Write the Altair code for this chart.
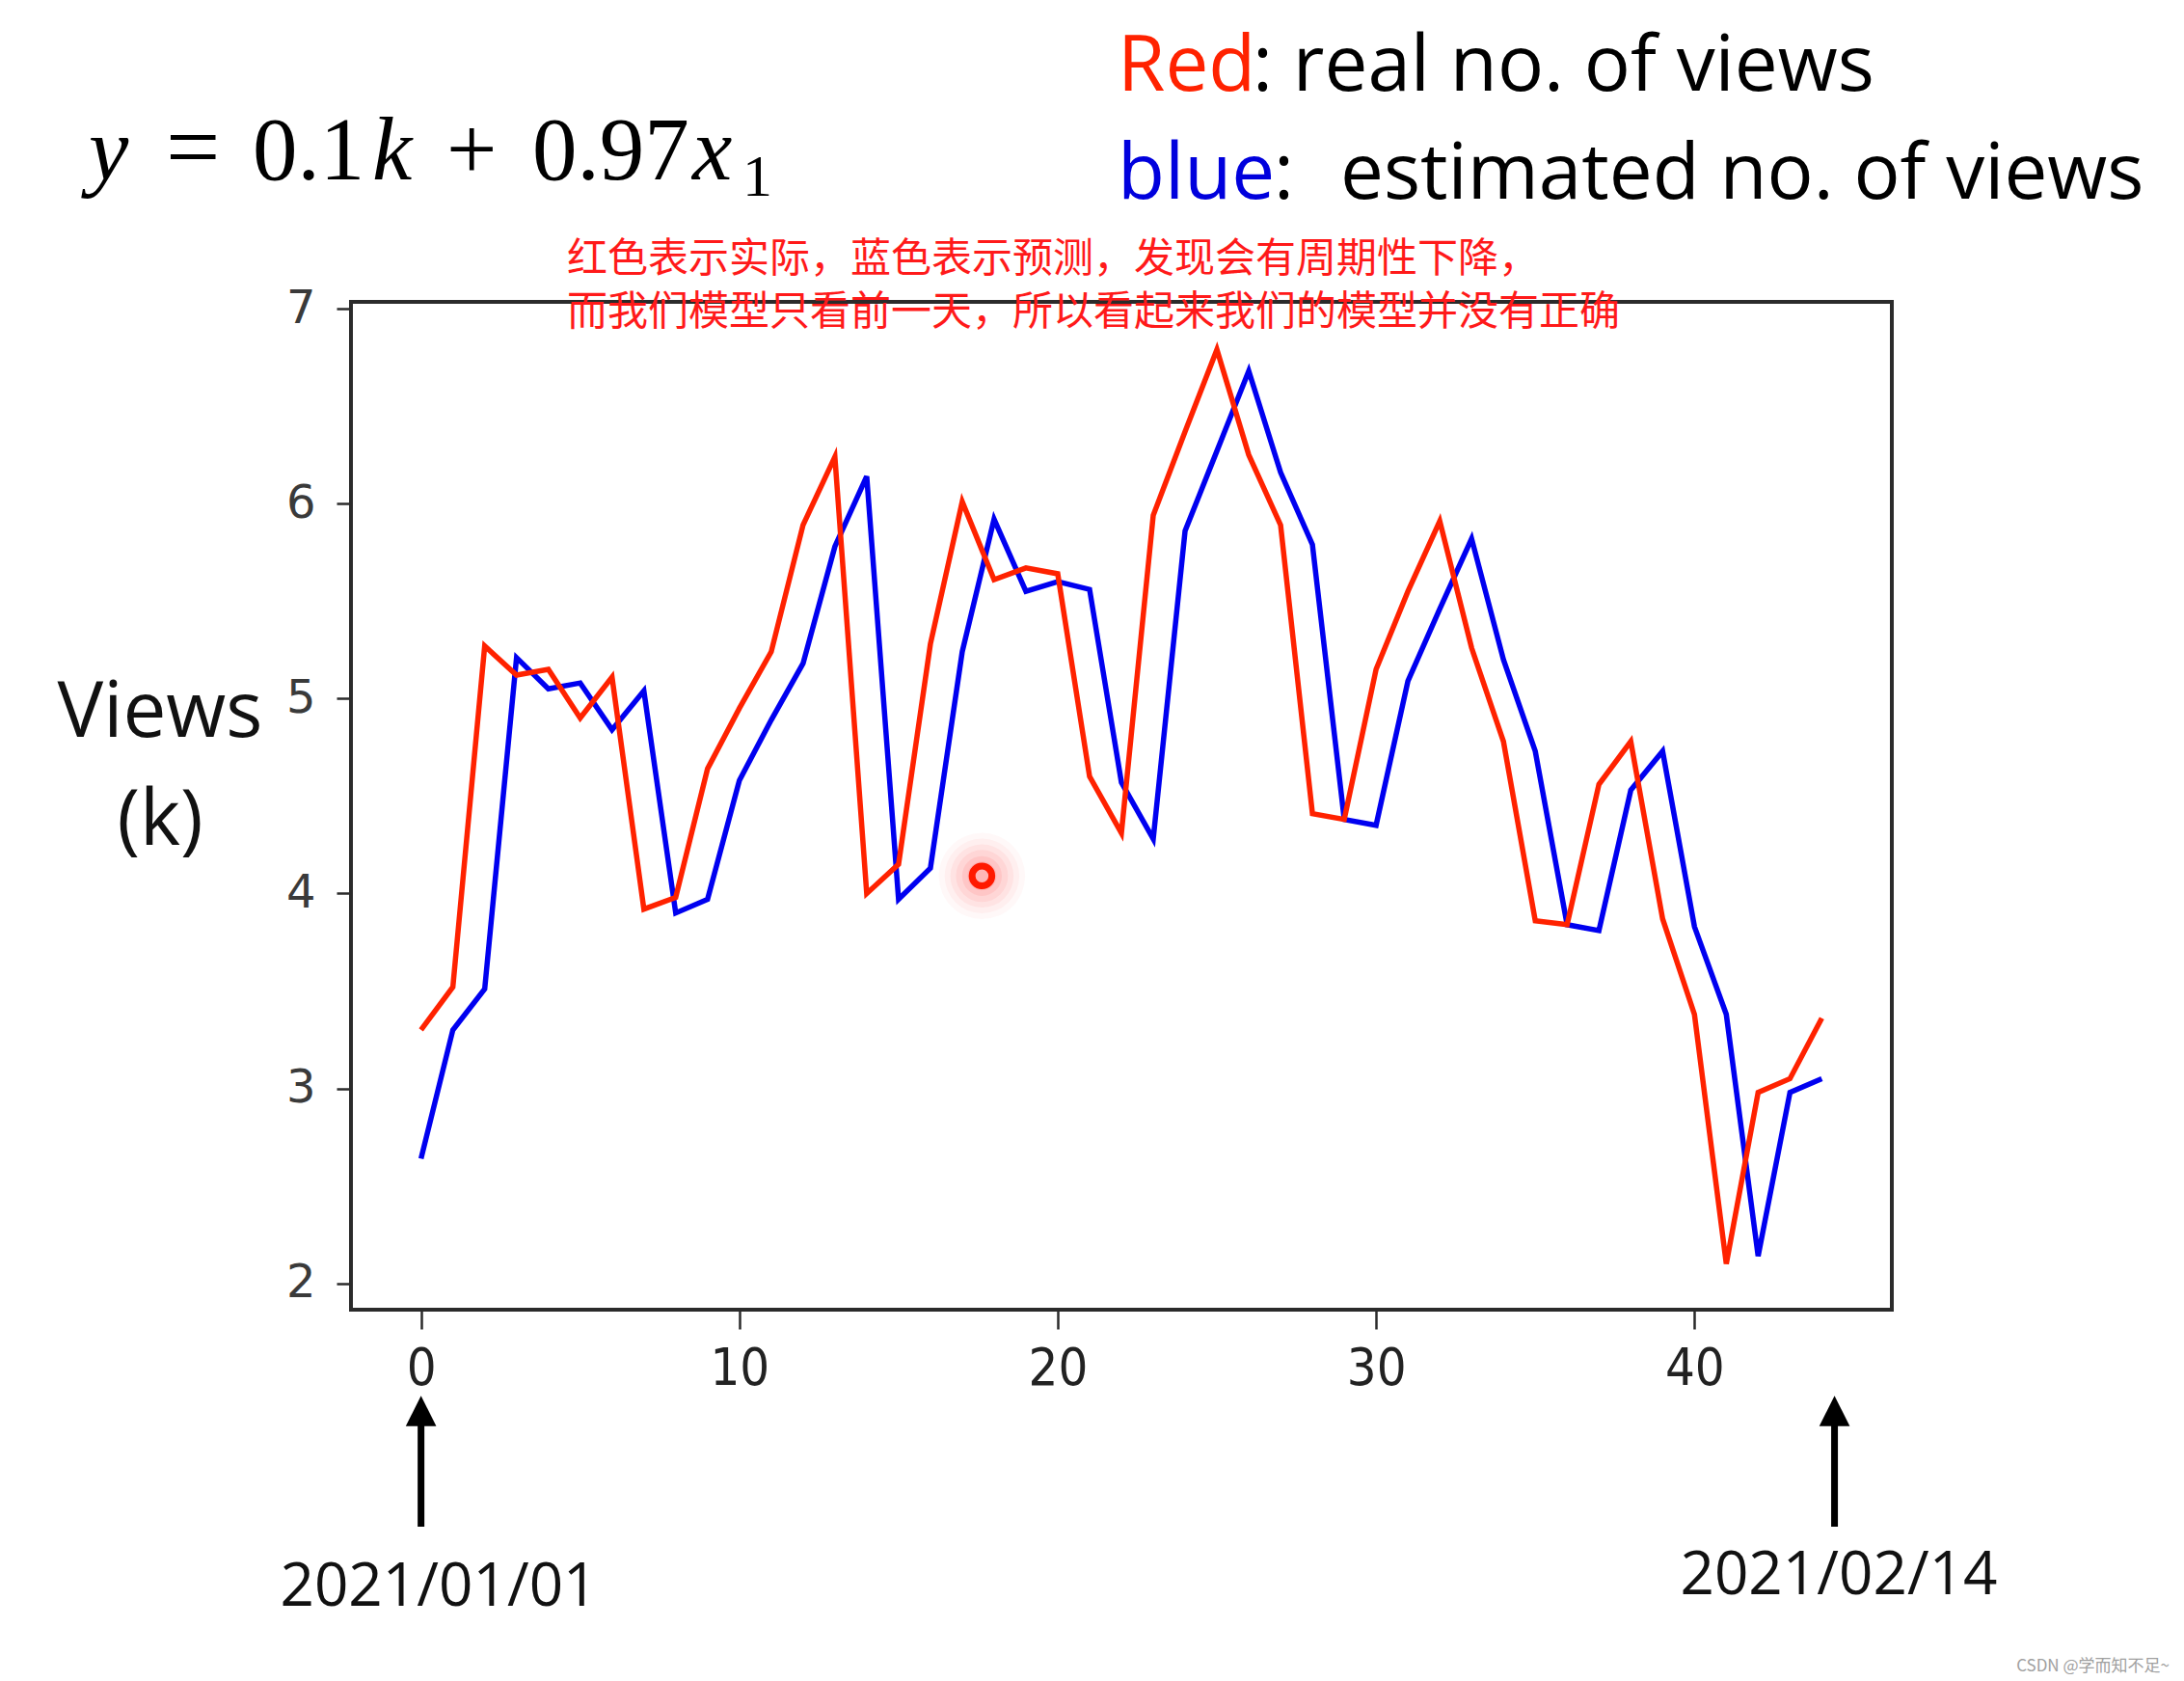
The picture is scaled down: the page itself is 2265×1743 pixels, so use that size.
import altair as alt
import pandas as pd

# ---------------- data ----------------
days = list(range(45))
real_views = [3.30, 3.52, 5.27, 5.12, 5.15, 4.90, 5.11, 3.92, 3.98, 4.64,
              4.95, 5.24, 5.89, 6.24, 4.00, 4.15, 5.28, 6.01, 5.61, 5.67,
              5.64, 4.60, 4.31, 5.94, 6.37, 6.79, 6.25, 5.89, 4.41, 4.38,
              5.15, 5.55, 5.91, 5.26, 4.78, 3.86, 3.84, 4.56, 4.78, 3.87,
              3.38, 2.10, 2.98, 3.05, 3.36]
estimated_views = [2.64, 3.30, 3.51, 5.21, 5.05, 5.08, 4.84, 5.04, 3.90, 3.97,
                   4.58, 4.89, 5.18, 5.78, 6.14, 3.97, 4.13, 5.24, 5.92, 5.55,
                   5.60, 5.56, 4.57, 4.28, 5.86, 6.27, 6.68, 6.16, 5.79, 4.38,
                   4.35, 5.09, 5.46, 5.82, 5.20, 4.73, 3.84, 3.81, 4.53, 4.73,
                   3.83, 3.38, 2.14, 2.98, 3.05]
x_ticks = [0, 10, 20, 30, 40]
y_ticks = [2, 3, 4, 5, 6, 7]
cursor_day = [17.62]
cursor_value = [4.09]
arrow_days = [0, 44.4]

RED = "#ff2200"
BLUE = "#0000f0"

# plot-area geometry (pixels in the page)
X0, Y0 = 364, 313
PLOT_W, PLOT_H = 1598, 1045
TOTAL_W, TOTAL_H = 2265, 1743

xs = alt.Scale(domain=[-2.2, 46.2], nice=False, zero=False)
ys = alt.Scale(domain=[1.865, 7.035], nice=False, zero=False)

x_axis = alt.Axis(values=x_ticks, title=None, grid=False, domain=False,
                  tickSize=20, tickWidth=2.5, tickColor="#2b2b2b",
                  labelFontSize=54, labelColor="#222222", labelPadding=14,
                  labelFont="Liberation Sans Narrow, DejaVu Sans Condensed, Roboto Condensed, DejaVu Sans")
y_axis = alt.Axis(values=y_ticks, title=None, grid=False, domain=False,
                  tickSize=15, tickWidth=2.5, tickColor="#2b2b2b",
                  labelFontSize=48, labelColor="#3a3a3a", labelPadding=22,
                  labelFont="DejaVu Sans")

x_enc = alt.X("day:Q", scale=xs, axis=x_axis)
y_enc = alt.Y("views:Q", scale=ys, axis=y_axis)

df_real = pd.DataFrame({"day": days, "views": real_views})
df_est = pd.DataFrame({"day": days, "views": estimated_views})
df_cursor = pd.DataFrame({"day": cursor_day, "views": cursor_value})
df_arrow = pd.DataFrame({"day": arrow_days})

layers = []

# cursor glow (soft halo)
for size, op in [(8000, 0.035), (6000, 0.045), (4300, 0.06), (2900, 0.07), (1700, 0.09), (900, 0.10)]:
    layers.append(
        alt.Chart(df_cursor).mark_point(shape="circle", filled=True, color="#ff3030",
                                        opacity=op, size=size, strokeWidth=0)
        .encode(x=x_enc, y=y_enc)
    )

layers.append(alt.Chart(df_est).mark_line(color=BLUE, strokeWidth=5.5).encode(x=x_enc, y=y_enc))
layers.append(alt.Chart(df_real).mark_line(color=RED, strokeWidth=5.5).encode(x=x_enc, y=y_enc))

layers.append(
    alt.Chart(df_cursor).mark_point(shape="circle", filled=False, color="#ff1a00",
                                    opacity=1, size=420, strokeWidth=7)
    .encode(x=x_enc, y=y_enc)
)

# arrows under the x axis
layers.append(
    alt.Chart(df_arrow).mark_rule(color="black", strokeWidth=7)
    .encode(x=x_enc, y=alt.value(1583 - Y0), y2=alt.value(1468 - Y0))
)
layers.append(
    alt.Chart(df_arrow).mark_point(shape="M0,-1L1,1L-1,1Z", filled=True, color="black",
                                   opacity=1, size=1000, strokeWidth=0)
    .encode(x=x_enc, y=alt.value(1463 - Y0))
)


def label(text, x, y, **kw):
    return alt.Chart(pd.DataFrame({"t": [text]})).mark_text(**kw).encode(
        x=alt.value(x - X0), y=alt.value(y - Y0), text="t:N")


serif = dict(font="Liberation Serif", fontSize=93, color="black", align="left", baseline="alphabetic")
# equation y = 0.1k + 0.97x1
layers += [
    label("y", 92, 186, fontStyle="italic", **serif),
    label("=", 172, 186, fontSize=100, font="Liberation Serif", color="black",
          align="left", baseline="alphabetic"),
    label("0.1", 262, 186, **serif),
    label("k", 386, 186, fontStyle="italic", **serif),
    label("+", 463, 186, **serif),
    label("0.97", 552, 186, **serif),
    label("x", 718, 186, fontStyle="italic", **serif),
    label("1", 770, 203, font="Liberation Serif", fontSize=62, color="black",
          align="left", baseline="alphabetic"),
]

sans = dict(font="Open Sans", fontSize=80, align="left", baseline="alphabetic")
layers += [
    label("Red", 1159, 94, color="#ff2200", **sans),
    label(": real no. of views", 1299, 94, color="black", **sans),
    label("blue", 1159, 206, color="#0000dd", **sans),
    label(":", 1321, 206, color="black", **sans),
    label("estimated no. of views", 1390, 206, color="black", **sans),
]

cjk = dict(font="Noto Sans CJK SC", fontSize=42, color="#ff1a1a", align="left", baseline="middle")
layers += [
    label("红色表示实际，蓝色表示预测，发现会有周期性下降，", 588, 269, **cjk),
    label("而我们模型只看前一天，所以看起来我们的模型并没有正确", 588, 324, **cjk),
]

views = dict(font="Open Sans", fontSize=80, color="#111111", align="center", baseline="alphabetic")
layers += [
    label("Views", 166, 764, **views),
    label("(k)", 166, 876, **views),
]

dates = dict(font="Open Sans", fontSize=62, color="#111111", align="center", baseline="alphabetic")
layers += [
    label("2021/01/01", 455, 1665, **dates),
    label("2021/02/14", 1907, 1653, **dates),
]

layers.append(label("CSDN @学而知不足~", 2250, 1733, font="Noto Sans CJK SC", fontSize=17,
                    color="#a0a0a0", align="right", baseline="alphabetic"))

chart = (
    alt.layer(*layers)
    .properties(
        width=PLOT_W, height=PLOT_H,
        padding={"left": X0, "top": Y0, "right": TOTAL_W - X0 - PLOT_W, "bottom": TOTAL_H - Y0 - PLOT_H},
        autosize=alt.AutoSizeParams(type="none"),
        background="white",
    )
    .configure_view(stroke="#2b2b2b", strokeWidth=4)
)

chart.save("out.html", embed_options={"renderer": "svg", "actions": False})
